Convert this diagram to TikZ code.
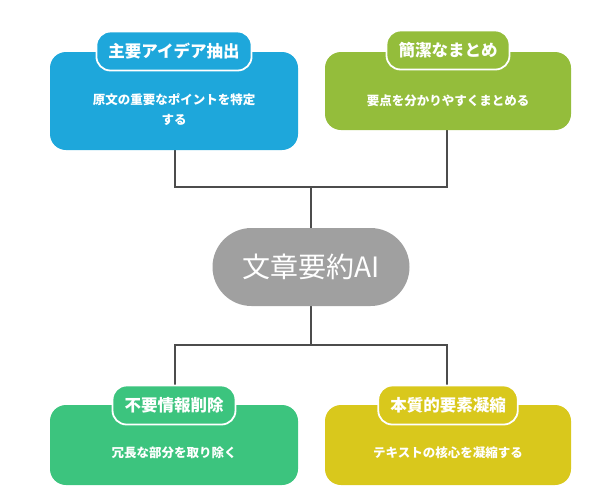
\documentclass[tikz,border=0pt]{standalone}
\usepackage{fontspec}
\setmainfont{Noto Sans CJK JP}
\begin{document}
\begin{tikzpicture}[x=1pt,y=-1pt,
  box/.style={rounded corners=16pt,inner sep=0pt,text=white,font=\fontsize{12.5}{20}\selectfont\bfseries,align=center},
  pill/.style={rounded corners=14pt,draw=white,line width=1.8pt,text=white,font=\fontsize{16.5}{19}\selectfont\bfseries,minimum height=39pt,inner xsep=12pt},
  conn/.style={draw=black!70,line width=1.2pt}]
\useasboundingbox (0,0) rectangle (613,499);
\definecolor{cb}{HTML}{1EA7DB}\definecolor{cg}{HTML}{94BD3B}
\definecolor{cgr}{HTML}{3CC47E}\definecolor{cy}{HTML}{D9C81C}\definecolor{cc}{HTML}{A0A0A0}
\coordinate (j1) at (311,187);\coordinate (j2) at (311,345);
\draw[conn] (175,150) |- (j1) -| (447,130);
\draw[conn] (175,405) |- (j2) -| (447,405);
\draw[conn] (j1) -- (311,228);\draw[conn] (j2) -- (311,306);
\node[box,fill=cb,minimum width=248pt,minimum height=98pt] (a) at (174,101) {};
\node[box] (at) at (174,110) {原文の重要なポイントを特定\\する};
\node[pill,fill=cb] (ap) at (174,51) {主要アイデア抽出};
\node[box,fill=cg,minimum width=246pt,minimum height=78pt] (b) at (448,91) {};
\node[box] (bt) at (448,101) {要点を分かりやすくまとめる};
\node[pill,fill=cg] (bp) at (448,50) {簡潔なまとめ};
\node[rounded corners=39pt,fill=cc,minimum width=197pt,minimum height=78pt,text=white,font=\fontsize{28}{32}\selectfont] (c) at (311,267) {文章要約AI};
\node[box,fill=cgr,minimum width=248pt,minimum height=80pt] (d) at (174,445) {};
\node[box] (dt) at (174,453) {冗長な部分を取り除く};
\node[pill,fill=cgr] (dp) at (174,405) {不要情報削除};
\node[box,fill=cy,minimum width=246pt,minimum height=80pt] (e) at (448,445) {};
\node[box] (et) at (448,453) {テキストの核心を凝縮する};
\node[pill,fill=cy] (ep) at (448,405) {本質的要素凝縮};
\end{tikzpicture}
\end{document}
